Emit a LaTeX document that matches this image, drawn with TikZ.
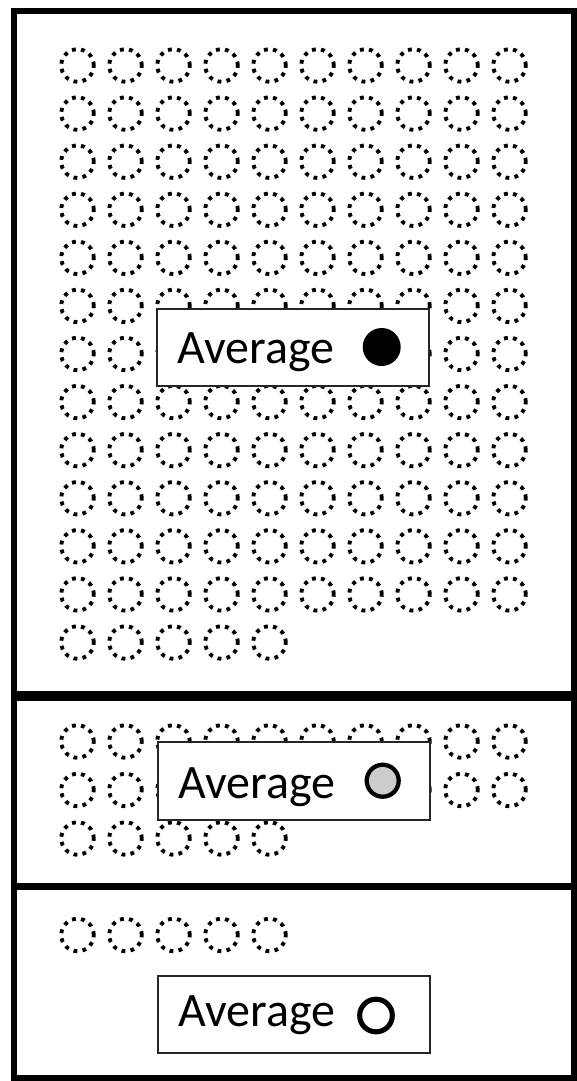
\documentclass[tikz,border=0pt]{standalone}
\usepackage{fontspec}
\setmainfont{Carlito}
\begin{document}
\begin{tikzpicture}[x=0.75pt,y=-0.75pt,
  frame/.style={draw=black,line width=4.2pt},
  dotcirc/.style={draw=black,line width=2.9pt,dash pattern=on 2.9pt off 3.9pt},
  labelbox/.style={draw=black!85,fill=white,line width=1.5pt,inner sep=0pt},
  labeltext/.style={anchor=base west,inner sep=0pt,font=\fontsize{36}{42}\selectfont}]
\useasboundingbox (0,0) rectangle (577,1081);
% three panels
\draw[frame] (14,10.8) rectangle (574,693.5);
\draw[frame] (14,698.5) rectangle (574,886);
\draw[frame] (14,887.5) rectangle (574,1078);
% top panel dotted circles
\foreach \r in {0,...,11}{
  \foreach \c in {0,...,9}{
    \draw[dotcirc] ({77.5+48*\c},{65.5+48.08*\r}) circle (12.2pt);
  }
}
\foreach \c in {0,...,4}{
  \draw[dotcirc] ({77.5+48*\c},642.5) circle (12.2pt);
}
% middle panel
\foreach \y in {741.5,790}{
  \foreach \c in {0,...,9}{
    \draw[dotcirc] ({77.5+48*\c},\y) circle (12.2pt);
  }
}
\foreach \c in {0,...,4}{
  \draw[dotcirc] ({77.5+48*\c},838.5) circle (12.2pt);
}
% bottom panel
\foreach \c in {0,...,4}{
  \draw[dotcirc] ({77.5+48*\c},935) circle (12.2pt);
}
% label boxes
\node[labelbox,minimum width=204pt,minimum height=57.75pt] (box1) at (293,347.5) {};
\node[labelbox,minimum width=204pt,minimum height=58.5pt] (box2) at (294,781) {};
\node[labelbox,minimum width=204pt,minimum height=57.75pt] (box3) at (294.3,1014.5) {};
\node[labeltext] (t1) at (177,363) {Average};
\node[labeltext] (t2) at (178,798) {Average};
\node[labeltext] (t3) at (178,1026.7) {Average};
\node[circle,fill=black,inner sep=0pt,minimum size=28.5pt] (d1) at (381.7,347) {};
\node[circle,draw=black,fill=black!20,line width=3.2pt,inner sep=0pt,minimum size=24pt] (d2) at (382.7,780.7) {};
\node[circle,draw=black,fill=white,line width=3.8pt,inner sep=0pt,minimum size=24.5pt] (d3) at (376,1015.5) {};
\end{tikzpicture}
\end{document}
